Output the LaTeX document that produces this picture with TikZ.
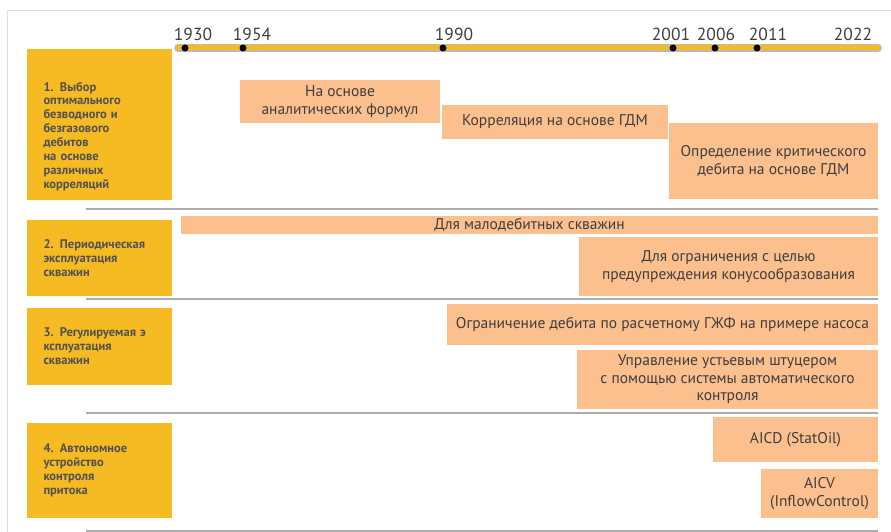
\documentclass[tikz,border=0pt]{standalone}
\usepackage{fontspec}
\setmainfont{PT Sans}
\definecolor{gold}{RGB}{246,186,34}
\definecolor{peach}{RGB}{251,192,142}
\definecolor{ink}{RGB}{62,62,62}
\begin{document}
\begin{tikzpicture}[x=1pt, y=-1pt,
    stagebox/.style={fill=gold, text=ink!90, font=\bfseries\fontsize{12.5}{13.9}\selectfont,
      text width=112pt, inner xsep=16.5pt, inner ysep=0pt, align=left, minimum width=145pt},
    techbox/.style={fill=peach, text=ink, font=\fontsize{15.5}{17.5}\selectfont,
      align=center, inner sep=0pt},
    yearlabel/.style={text=ink, font=\fontsize{17.5}{19}\selectfont, inner sep=0pt},
    yeardot/.style={circle, fill=black, inner sep=0pt, minimum size=7pt},
    rowline/.style={draw=gray!65, line width=2pt}]
  \useasboundingbox (0,0) rectangle (891,532);
  % рамка
  \draw[gray!25, line width=1pt] (891,11) -- (7,11) -- (7,532);
  % шкала времени
  \coordinate (tl-start) at (178,48);
  \coordinate (tl-end) at (878,48);
  \draw[gray!55, line width=7.5pt, line cap=round] (tl-start) -- (tl-end);
  \draw[gold, line width=5pt, line cap=round] (tl-start) -- (tl-end);
  \foreach \yr/\px in {1930/185, 1954/243, 1990/443, 2001/673, 2006/715, 2011/757}
    \node[yeardot] (d\yr) at (\px,48) {};
  \foreach \yr/\px in {1930/193, 1954/252, 1990/454, 2001/671, 2006/716, 2011/768, 2022/853}
    \node[yearlabel] (y\yr) at (\px,34) {\yr};
  % разделители
  \foreach \py in {209,299,413,531}
    \draw[rowline] (86,\py) -- (878,\py);
  % группы методов
  \node[stagebox, minimum height=151pt] (s1) at (99.5,124.5)
    {\rule{0pt}{33pt}1. Выбор\\оптимального\\безводного и\\безгазового\\дебитов\\на основе\\различных\\корреляций};
  \node[stagebox, minimum height=76pt] (s2) at (99.5,258)
    {2. Периодическая\\эксплуатация\\скважин};
  \node[stagebox, minimum height=77pt] (s3) at (99.5,346.5)
    {3. Регулируемая э\\ксплуатация\\скважин};
  \node[stagebox, minimum height=95pt] (s4) at (99.5,470.5)
    {4. Автономное\\устройство\\контроля\\притока};
  % методы
  \node[techbox, minimum width=200pt, minimum height=43pt] (a1) at (340,101.5)
    {На основе\\аналитических формул};
  \node[techbox, minimum width=226pt, minimum height=34pt] (a2) at (555,122)
    {Корреляция на основе ГДМ};
  \node[techbox, minimum width=209pt, minimum height=76pt] (a3) at (773.5,161)
    {Определение критического\\дебита на основе ГДМ};
  \node[techbox, minimum width=697pt, minimum height=18pt] (b1) at (529.5,225)
    {Для малодебитных скважин};
  \node[techbox, minimum width=299pt, minimum height=59pt] (b2) at (728.5,266.5)
    {Для ограничения с целью\\предупреждения конусообразования};
  \node[techbox, minimum width=431pt, minimum height=41pt] (c1) at (662.5,324.5)
    {Ограничение дебита по расчетному ГЖФ на примере насоса};
  \node[techbox, minimum width=301pt, minimum height=59pt] (c2) at (727.5,379.5)
    {Управление устьевым штуцером\\с помощью системы автоматического\\контроля};
  \node[techbox, minimum width=165pt, minimum height=45pt] (d1) at (795.5,439.5)
    {AICD (StatOil)};
  \node[techbox, minimum width=117pt, minimum height=49pt] (d2) at (819.5,493.5)
    {AICV\\(InflowControl)};
\end{tikzpicture}
\end{document}
